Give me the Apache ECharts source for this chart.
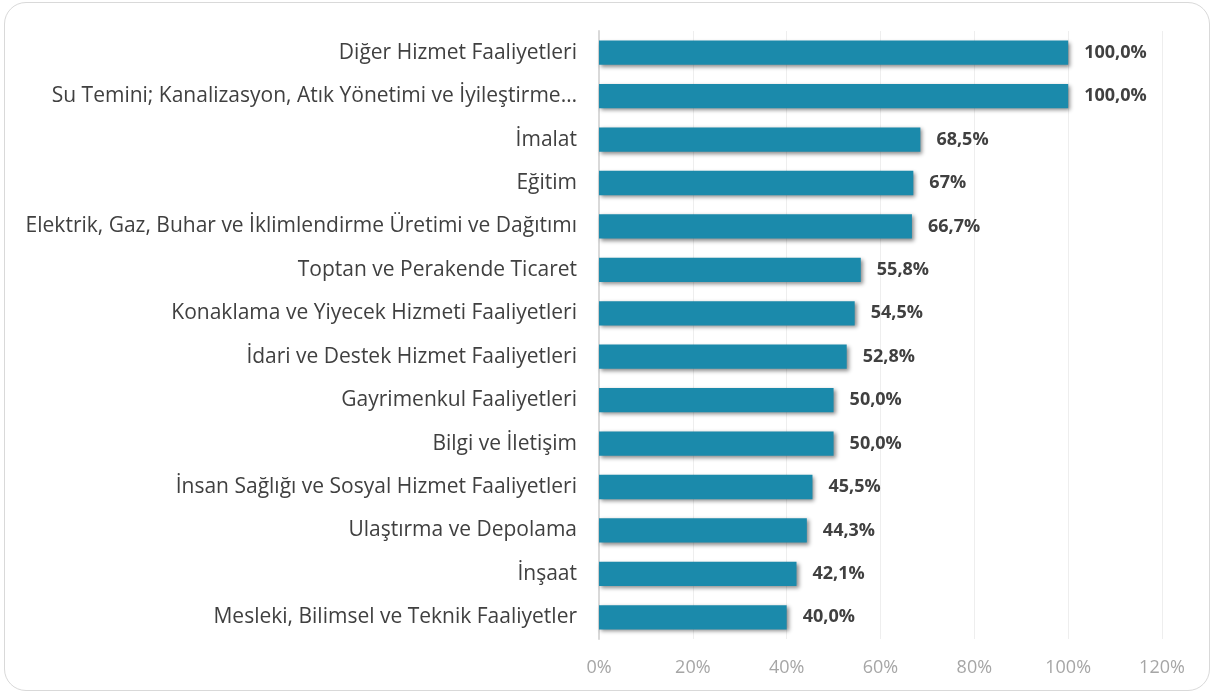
<!DOCTYPE html>
<html>
<head>
<meta charset="utf-8">
<script src="https://cdn.jsdelivr.net/npm/echarts@6/dist/echarts.min.js"></script>
<style>
  html, body { margin: 0; padding: 0; background: #fff; }
  #chart {
    position: absolute; left: 4px; top: 2px; width: 1206px; height: 689px;
    border: 1.5px solid #d9d9d9; border-radius: 22px; box-sizing: border-box;
  }
</style>
</head>
<body>
<div id="chart"></div>
<script>
// kategoriler (üstten alta)
const categories = [
  'Diğer Hizmet Faaliyetleri',
  'Su Temini; Kanalizasyon, Atık Yönetimi ve İyileştirme…',
  'İmalat',
  'Eğitim',
  'Elektrik, Gaz, Buhar ve İklimlendirme Üretimi ve Dağıtımı',
  'Toptan ve Perakende Ticaret',
  'Konaklama ve Yiyecek Hizmeti Faaliyetleri',
  'İdari ve Destek Hizmet Faaliyetleri',
  'Gayrimenkul Faaliyetleri',
  'Bilgi ve İletişim',
  'İnsan Sağlığı ve Sosyal Hizmet Faaliyetleri',
  'Ulaştırma ve Depolama',
  'İnşaat',
  'Mesleki, Bilimsel ve Teknik Faaliyetler'
]
const values = [100, 100, 68.5, 67, 66.7, 55.8, 54.5, 52.8, 50, 50, 45.5, 44.3, 42.1, 40]
const valueLabels = ['100,0%', '100,0%', '68,5%', '67%', '66,7%', '55,8%', '54,5%', '52,8%',
  '50,0%', '50,0%', '45,5%', '44,3%', '42,1%', '40,0%']
const xTicks = [0, 20, 40, 60, 80, 100, 120]

const chart = echarts.init(document.getElementById('chart'))
chart.setOption({
  animation: false,
  textStyle: { fontFamily: '"Open Sans", sans-serif' },
  grid: { left: 594, right: 47, top: 28, bottom: 51 },
  xAxis: {
    type: 'value',
    min: xTicks[0],
    max: xTicks[xTicks.length - 1],
    interval: 20,
    axisLine: { show: false },
    axisTick: { show: false },
    axisLabel: { color: '#a6a6a6', fontSize: 18, margin: 20, formatter: v => v + '%' },
    splitLine: { lineStyle: { color: '#eeeeee', width: 1 } }
  },
  yAxis: {
    type: 'category',
    inverse: true,
    data: categories,
    axisLine: { show: true, lineStyle: { color: '#d9d9d9', width: 2 } },
    axisTick: { show: false },
    axisLabel: { color: '#404040', fontSize: 21, margin: 22 }
  },
  series: [{
    type: 'bar',
    data: values,
    barCategoryGap: '44%',
    itemStyle: {
      color: '#1b8aab',
      shadowColor: 'rgba(0,0,0,0.45)',
      shadowBlur: 4,
      shadowOffsetX: 2,
      shadowOffsetY: 2
    },
    label: {
      show: true,
      position: 'right',
      distance: 16,
      color: '#404040',
      fontWeight: 'bold',
      fontSize: 18,
      formatter: p => valueLabels[p.dataIndex]
    }
  }]
})
</script>
</body>
</html>
